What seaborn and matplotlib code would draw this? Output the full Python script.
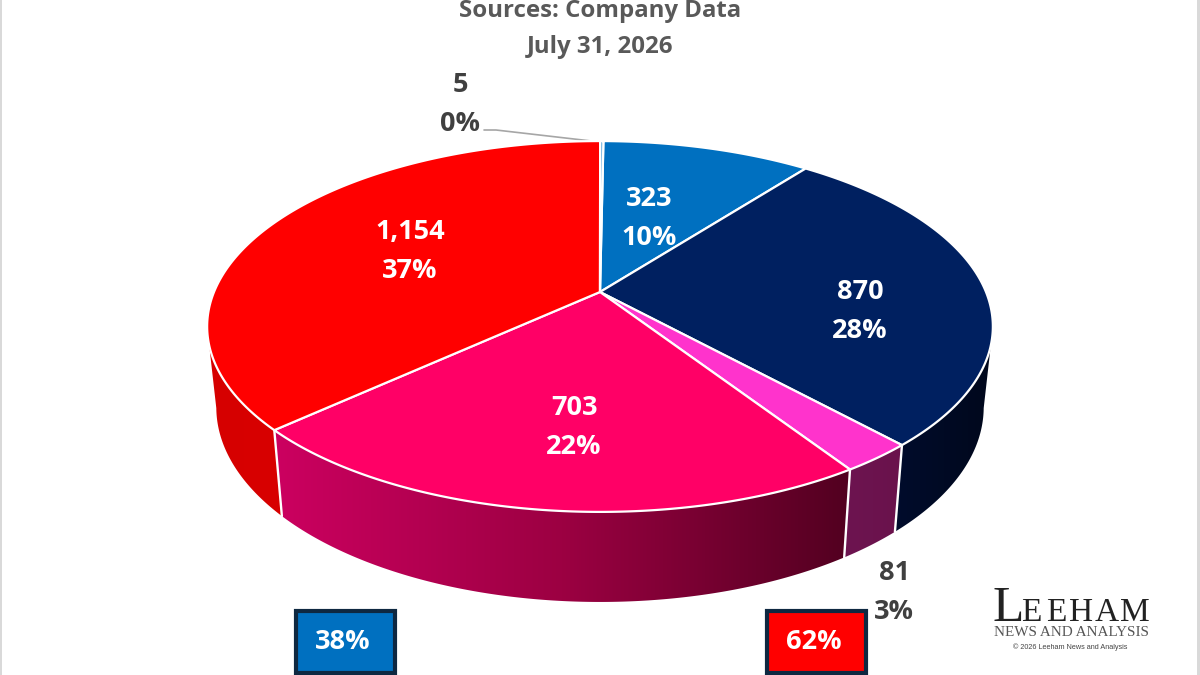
import matplotlib
matplotlib.use('Agg')
import matplotlib.pyplot as plt
from matplotlib.patches import Polygon, Rectangle
import numpy as np
import seaborn as sns

# slices clockwise from 12 o'clock
values = [323, 870, 81, 703, 1154, 5]
top_colors = ['#0070c0', '#002060', '#ff33cc', '#ff0066', '#ff0000', '#5fa8dc']
# wall colours, left to right on screen
side_colors = [['#005a9c', '#005a9c'], ['#000c2c', '#00081c'], ['#6d1450', '#6a124c'],
               ['#cc0060', '#9c0042', '#520020'], ['#d60000', '#d80000'], ['#c00000', '#c00000']]
title_lines = ['Sources: Company Data', 'July 31, 2026']
blue_group = [0, 1]
red_group = [2, 3, 4, 5]
logo_letters = ['E', 'E', 'H', 'A', 'M']

sns.set_style('white')
plt.rcParams['font.family'] = ['Open Sans', 'DejaVu Sans']

total = sum(values)
edges = np.cumsum([0] + values) / total * 2 * np.pi + np.radians(0.6)


# perspective view of a flat disc, k is the foreshortening
def project(theta, cy, a, b, k=0.186):
    u, v = np.sin(theta), np.cos(theta)
    d = 1 + k * v
    return 600 + a * u / d, cy - b * v / d


def top_rim(theta):
    return project(theta, 292, 386, 179)


def low_rim(theta):
    return project(theta, 371, 377, 188)


fig = plt.figure(figsize=(12, 6.75), dpi=100)
ax = fig.add_axes([0, 0, 1, 1])

# side wall, only the part facing us (silhouette tangent is at about 101 and 259 deg)
for i in range(len(values)):
    start, stop = max(edges[i], np.radians(101)), min(edges[i + 1], np.radians(259))
    if stop <= start:
        continue
    th = np.linspace(start, stop, 200)
    xt, yt = top_rim(th)
    xl, yl = low_rim(th[::-1])
    outline = np.c_[np.r_[xt, xl], np.r_[yt, yl]]
    ramp = np.array(sns.blend_palette(side_colors[i], 256))[np.newaxis, :, :]
    im = ax.imshow(ramp, aspect='auto', interpolation='bilinear', zorder=1,
                   extent=(outline[:, 0].min(), outline[:, 0].max(), outline[:, 1].max(), outline[:, 1].min()))
    im.set_clip_path(Polygon(outline, transform=ax.transData))

ax.set_xlim(0, 1200)
ax.set_ylim(675, 0)
ax.axis('off')

# white divider down the wall
for e in edges[1:5]:
    if np.pi / 2 < e < 3 * np.pi / 2:
        xt, yt = top_rim(e)
        xl, yl = low_rim(e)
        ax.plot([xt, xl], [yt, yl], color='white', lw=1.7, zorder=2)

# top face
for i in range(len(values)):
    th = np.linspace(edges[i], edges[i + 1], 200)
    x, y = top_rim(th)
    ax.fill(np.r_[600, x], np.r_[292, y], facecolor=top_colors[i], edgecolor='white',
            lw=1.6, joinstyle='round', zorder=3)

# slice labels
inside = [(649, 218), (860, 311), None, (574, 427), (410, 251), None]
outside = [None, None, (894, 592), None, None, (460, 104)]
for i, v in enumerate(values):
    pct = f'{v / total:.0%}'
    if inside[i] is not None:
        x, y = inside[i]
        color = 'white'
    else:
        x, y = outside[i]
        color = '#404040'
    ax.text(x, y - 19, f'{v:,}', color=color, fontsize=19.5, fontweight='bold',
            ha='center', va='center', zorder=5)
    ax.text(x, y + 20, pct, color=color, fontsize=19.5, fontweight='bold',
            ha='center', va='center', zorder=5)

# leader for the tiny slice
ax.plot([484, 496, 600], [130, 130, 142], color='#a6a6a6', lw=1.2, zorder=2)

# title, clipped close to the top edge
ax.text(600, 11, title_lines[0], color='#595959', fontsize=17.3, fontweight='bold', ha='center', va='center')
ax.text(600, 47, title_lines[1], color='#595959', fontsize=17.3, fontweight='bold', ha='center', va='center')

# group boxes
groups = [(blue_group, 296, '#0070c0'), (red_group, 767, '#ff0000')]
for members, bx, fc in groups:
    share = sum(values[m] for m in members) / total
    ax.add_patch(Rectangle((bx, 611), 99, 62, facecolor=fc, edgecolor='#0e2841', lw=3, zorder=4))
    ax.text(bx + 47, 642, f'{share:.0%}', color='white', fontsize=19.5, fontweight='bold',
            ha='center', va='center', zorder=5)

# logo
ax.text(992, 621, 'L', family='Liberation Serif', fontsize=37, color='#222222', ha='left', va='baseline')
for letter, lx in zip(logo_letters, [1031, 1056, 1081, 1107, 1135]):
    ax.text(lx, 621, letter, family='Liberation Serif', fontsize=24, color='#222222', ha='center', va='baseline')
ax.text(1072, 633, 'NEWS AND ANALYSIS', family='Liberation Serif', fontsize=10.9, color='#555555',
        ha='center', va='center')
ax.text(1070, 647, '© 2026 Leeham News and Analysis', family='Liberation Sans', fontsize=5.2, color='#444444',
        ha='center', va='center')

# grey slide edges
ax.add_patch(Rectangle((0, 0), 2, 675, color='#d9d9d9', lw=0, zorder=6))
ax.add_patch(Rectangle((1197, 0), 3, 675, color='#d9d9d9', lw=0, zorder=6))

plt.savefig('out.png', dpi=100, facecolor='white')
